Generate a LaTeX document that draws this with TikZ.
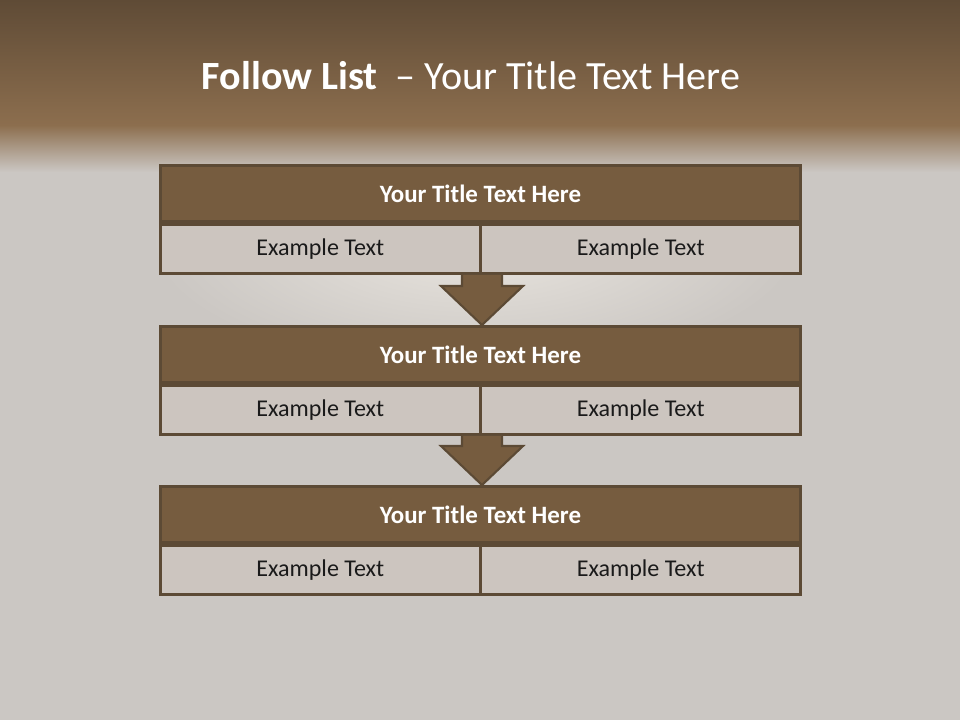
\documentclass[tikz,border=0pt]{standalone}
\usepackage{fontspec}
\setmainfont{Carlito}
\usepackage{xcolor}
\usepackage{tikz}
\usetikzlibrary{positioning,calc}

\definecolor{bandtop}{HTML}{5F4B36}
\definecolor{bandlow}{HTML}{8C6E4E}
\definecolor{slidegray}{HTML}{CBC7C3}
\definecolor{glowgray}{HTML}{E9E5DF}
\definecolor{barbrown}{HTML}{765C3F}
\definecolor{edgebrown}{HTML}{5C4A35}
\definecolor{cellgray}{HTML}{CCC5BF}
\definecolor{inktext}{HTML}{1A1A1A}

\tikzset{
	titlebar/.style={draw=edgebrown, line width=1.7pt, fill=barbrown, text=white,
		minimum width=12.82cm, minimum height=1.12cm, inner sep=0pt,
		font=\fontsize{14.2}{17}\selectfont\bfseries},
	cellbox/.style={draw=edgebrown, line width=1.7pt, fill=cellgray, text=inktext,
		minimum width=6.41cm, minimum height=0.98cm, inner sep=0pt,
		font=\fontsize{13.7}{16}\selectfont},
	flowarrow/.style={draw=edgebrown, line width=1.2pt, fill=barbrown, line join=miter}
}

\begin{document}
\begin{tikzpicture}[x=0.02cm, y=-0.02cm]
		\useasboundingbox (0,0) rectangle (960,720);

		% background
		\fill[slidegray] (0,0) rectangle (960,720);
		\shade[inner color=glowgray, outer color=slidegray] (150,110) rectangle (800,370);
		\shade[top color=bandtop, bottom color=bandlow] (0,0) rectangle (960,125);
		\shade[top color=bandlow, bottom color=slidegray] (0,125) rectangle (960,172);

		\node[text=white, font=\fontsize{22.8}{27}\selectfont] (heading) at (471,76)
			{\textbf{Follow List}\ \ – Your Title Text Here};

		% three blocks
		\node[titlebar] (t1) at (480.5,193.5) {Your Title Text Here};
		\node[cellbox, anchor=north west] (l1) at (t1.south west) {Example Text};
		\node[cellbox, anchor=north east] (r1) at (t1.south east) {Example Text};

		\node[titlebar] (t2) at (480.5,354.5) {Your Title Text Here};
		\node[cellbox, anchor=north west] (l2) at (t2.south west) {Example Text};
		\node[cellbox, anchor=north east] (r2) at (t2.south east) {Example Text};

		\node[titlebar] (t3) at (480.5,514.5) {Your Title Text Here};
		\node[cellbox, anchor=north west] (l3) at (t3.south west) {Example Text};
		\node[cellbox, anchor=north east] (r3) at (t3.south east) {Example Text};

		% arrows between blocks
		\foreach \a/\b in {l1/t2, l2/t3} {
			\draw[flowarrow] let \p1=(\a.south east), \p2=(\b.north) in
				(\x1-0.4cm,\y1) -- (\x1-0.4cm,\y2+0.78cm) -- (\x1-0.82cm,\y2+0.78cm)
				-- (\x1,\y2) -- (\x1+0.82cm,\y2+0.78cm) -- (\x1+0.4cm,\y2+0.78cm)
				-- (\x1+0.4cm,\y1);
		}
	\end{tikzpicture}
\end{document}
